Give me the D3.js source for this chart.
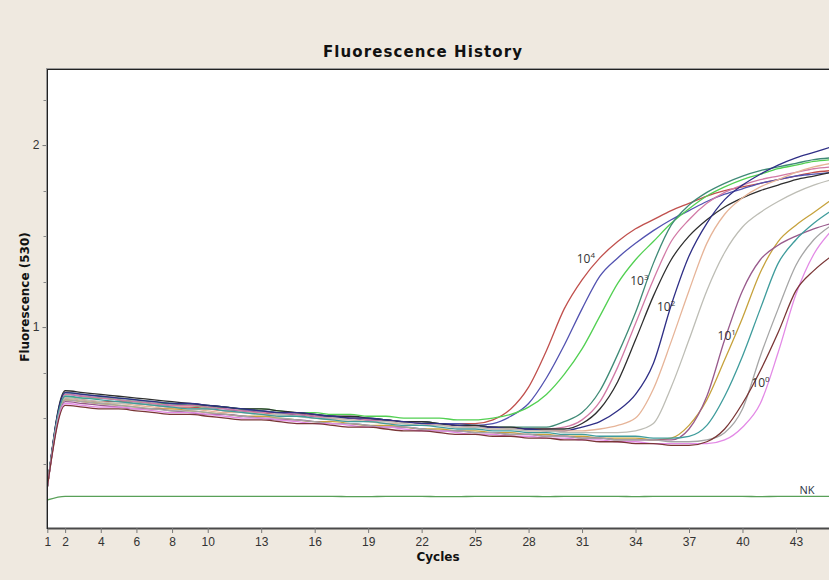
<!DOCTYPE html>
<html>
<head>
<meta charset="utf-8">
<script src="https://cdn.jsdelivr.net/npm/d3@7"></script>
<style>
  body { margin: 0; background: #efe9e0; }
  svg { display: block; }
</style>
</head>
<body>
<svg id="chart" width="829" height="580"></svg>
<script>
// cycles on the x axis
const cycles = [1,2,3,4,5,6,7,8,9,10,11,12,13,14,15,16,17,18,19,20,21,22,23,24,25,26,27,28,29,30,31,32,33,34,35,36,37,38,39,40,41,42,43,44,45];
const xTickValues = [1,2,4,6,8,10,13,16,19,22,25,28,31,34,37,40,43];
const yMajorTicks = [1,2];
const yMinorTicks = [0.25,0.5,0.75,1.25,1.5,1.75,2.25];

// 10^4
const red10e4 = [0.12,0.61,0.60,0.59,0.59,0.58,0.57,0.56,0.56,0.55,
  0.54,0.54,0.53,0.52,0.52,0.51,0.50,0.50,0.49,0.49,
  0.48,0.48,0.47,0.47,0.47,0.49,0.55,0.67,0.87,1.10,
  1.26,1.38,1.47,1.54,1.59,1.64,1.68,1.72,1.75,1.77,
  1.79,1.81,1.83,1.85,1.86];
const blue10e4 = [0.12,0.63,0.62,0.61,0.60,0.59,0.58,0.57,0.57,0.56,
  0.55,0.54,0.54,0.53,0.52,0.51,0.51,0.50,0.49,0.49,
  0.48,0.48,0.47,0.47,0.46,0.47,0.51,0.58,0.72,0.90,
  1.10,1.28,1.38,1.46,1.53,1.59,1.64,1.69,1.73,1.76,
  1.79,1.81,1.83,1.84,1.85];
const green10e4 = [0.12,0.62,0.61,0.61,0.60,0.59,0.58,0.58,0.57,0.56,
  0.56,0.55,0.55,0.54,0.53,0.53,0.52,0.52,0.51,0.51,
  0.50,0.50,0.50,0.49,0.49,0.50,0.52,0.56,0.63,0.74,
  0.88,1.06,1.24,1.37,1.47,1.57,1.65,1.72,1.77,1.81,
  1.84,1.87,1.89,1.91,1.92];
// 10^3
const teal10e3 = [0.12,0.64,0.63,0.62,0.61,0.60,0.59,0.58,0.57,0.57,
  0.56,0.55,0.54,0.53,0.53,0.52,0.51,0.50,0.50,0.49,
  0.48,0.48,0.47,0.46,0.46,0.45,0.45,0.45,0.45,0.48,
  0.53,0.65,0.85,1.08,1.35,1.56,1.67,1.74,1.79,1.83,
  1.86,1.88,1.90,1.92,1.93];
const pink10e3 = [0.12,0.63,0.62,0.61,0.60,0.59,0.58,0.57,0.57,0.56,
  0.55,0.54,0.53,0.53,0.52,0.51,0.50,0.50,0.49,0.48,
  0.48,0.47,0.46,0.46,0.45,0.45,0.44,0.44,0.44,0.45,
  0.49,0.59,0.78,1.02,1.26,1.47,1.59,1.68,1.74,1.78,
  1.81,1.83,1.85,1.87,1.88];
const black10e3 = [0.12,0.65,0.64,0.63,0.62,0.61,0.60,0.59,0.58,0.57,
  0.56,0.55,0.55,0.54,0.53,0.52,0.51,0.51,0.50,0.49,
  0.48,0.48,0.47,0.46,0.46,0.45,0.45,0.44,0.44,0.44,
  0.47,0.55,0.70,0.93,1.17,1.37,1.50,1.59,1.66,1.71,
  1.75,1.78,1.81,1.83,1.85];
// 10^2
const navy10e2 = [0.12,0.64,0.63,0.62,0.61,0.60,0.59,0.58,0.58,0.57,
  0.56,0.55,0.54,0.53,0.53,0.52,0.51,0.50,0.50,0.49,
  0.48,0.47,0.47,0.46,0.45,0.45,0.44,0.44,0.43,0.43,
  0.45,0.48,0.54,0.63,0.80,1.12,1.39,1.57,1.70,1.78,
  1.84,1.89,1.93,1.96,1.99];
const peach10e2 = [0.12,0.60,0.59,0.58,0.58,0.57,0.56,0.55,0.55,0.54,
  0.53,0.53,0.52,0.51,0.51,0.50,0.49,0.49,0.48,0.47,
  0.47,0.46,0.46,0.45,0.45,0.44,0.44,0.43,0.43,0.43,
  0.43,0.44,0.46,0.50,0.66,0.92,1.20,1.46,1.62,1.71,
  1.77,1.81,1.85,1.88,1.90];
const gray10e2 = [0.12,0.61,0.60,0.59,0.58,0.58,0.57,0.56,0.55,0.55,
  0.54,0.53,0.52,0.52,0.51,0.50,0.50,0.49,0.48,0.48,
  0.47,0.46,0.46,0.45,0.45,0.44,0.44,0.43,0.43,0.42,
  0.42,0.42,0.42,0.43,0.47,0.67,0.93,1.20,1.41,1.55,
  1.63,1.69,1.74,1.78,1.81];
// 10^1
const olive10e1 = [0.12,0.60,0.59,0.58,0.57,0.56,0.55,0.55,0.54,0.53,
  0.52,0.51,0.51,0.50,0.49,0.48,0.48,0.47,0.46,0.46,
  0.45,0.44,0.44,0.43,0.43,0.42,0.42,0.41,0.41,0.40,
  0.40,0.39,0.39,0.39,0.38,0.39,0.46,0.60,0.82,1.05,
  1.30,1.47,1.56,1.63,1.70];
const mauve10e1 = [0.12,0.59,0.58,0.57,0.56,0.55,0.55,0.54,0.53,0.52,
  0.52,0.51,0.50,0.49,0.49,0.48,0.47,0.47,0.46,0.45,
  0.45,0.44,0.43,0.43,0.42,0.42,0.41,0.41,0.40,0.40,
  0.39,0.39,0.38,0.38,0.38,0.38,0.44,0.62,0.93,1.20,
  1.37,1.45,1.50,1.54,1.57];
const teal10e1 = [0.12,0.62,0.61,0.60,0.59,0.58,0.57,0.56,0.55,0.55,
  0.54,0.53,0.52,0.51,0.51,0.50,0.49,0.48,0.48,0.47,
  0.46,0.46,0.45,0.44,0.44,0.43,0.43,0.42,0.42,0.41,
  0.41,0.40,0.40,0.40,0.39,0.39,0.40,0.46,0.62,0.84,
  1.10,1.35,1.48,1.57,1.64];
// 10^0
const maroon10e0 = [0.12,0.57,0.56,0.55,0.55,0.54,0.53,0.52,0.52,0.51,
  0.50,0.49,0.49,0.48,0.47,0.47,0.46,0.45,0.45,0.44,
  0.43,0.43,0.42,0.41,0.41,0.40,0.40,0.39,0.39,0.38,
  0.38,0.37,0.37,0.36,0.36,0.35,0.35,0.37,0.44,0.58,
  0.76,0.97,1.20,1.31,1.39];
const gray10e0 = [0.12,0.60,0.59,0.58,0.57,0.56,0.55,0.54,0.54,0.53,
  0.52,0.51,0.50,0.50,0.49,0.48,0.47,0.47,0.46,0.45,
  0.45,0.44,0.43,0.43,0.42,0.42,0.41,0.41,0.40,0.40,
  0.39,0.39,0.38,0.38,0.38,0.37,0.37,0.38,0.42,0.55,
  0.84,1.10,1.34,1.48,1.56];
const violet10e0 = [0.12,0.58,0.57,0.56,0.56,0.55,0.54,0.53,0.53,0.52,
  0.51,0.50,0.50,0.49,0.48,0.47,0.47,0.46,0.45,0.45,
  0.44,0.43,0.43,0.42,0.41,0.41,0.40,0.40,0.39,0.39,
  0.38,0.38,0.37,0.37,0.36,0.36,0.36,0.36,0.38,0.45,
  0.58,0.86,1.18,1.40,1.53];
// negative control
const nkValues = [0.05,0.07,0.07,0.07,0.07,0.07,0.07,0.07,0.07,0.07,
  0.07,0.07,0.07,0.07,0.07,0.07,0.07,0.068,0.068,0.07,
  0.07,0.07,0.068,0.068,0.07,0.07,0.07,0.07,0.068,0.07,
  0.07,0.07,0.07,0.068,0.07,0.07,0.07,0.07,0.07,0.07,
  0.068,0.07,0.07,0.07,0.07];

// dilution labels: text, exponent, anchor cycle, anchor value
const dilutionLabels = [
  {base: "10", exp: "4", c: 30.7, v: 1.35},
  {base: "10", exp: "3", c: 33.7, v: 1.23},
  {base: "10", exp: "2", c: 35.2, v: 1.09},
  {base: "10", exp: "1", c: 38.6, v: 0.93},
  {base: "10", exp: "0", c: 40.5, v: 0.67}
];
const nkLabel = {text: "NK", c: 43.2, v: 0.085};

const series = [
  {name: "10^4 a", color: "#c0504d", values: red10e4},
  {name: "10^4 b", color: "#5252b0", values: blue10e4},
  {name: "10^4 c", color: "#52d052", values: green10e4},
  {name: "10^3 a", color: "#3f8a76", values: teal10e3},
  {name: "10^3 b", color: "#d27aa6", values: pink10e3},
  {name: "10^3 c", color: "#2e2e2e", values: black10e3},
  {name: "10^2 a", color: "#2f2f86", values: navy10e2},
  {name: "10^2 b", color: "#e6b498", values: peach10e2},
  {name: "10^2 c", color: "#bdbdb5", values: gray10e2},
  {name: "10^1 a", color: "#c6a23c", values: olive10e1},
  {name: "10^1 b", color: "#985a8c", values: mauve10e1},
  {name: "10^1 c", color: "#3f9c9c", values: teal10e1},
  {name: "10^0 a", color: "#a6a6a6", values: gray10e0},
  {name: "10^0 b", color: "#e38ae6", values: violet10e0},
  {name: "10^0 c", color: "#7a3636", values: maroon10e0},
  {name: "NK", color: "#58a058", values: nkValues}
];

var svg = d3.select("#chart");

var x = d3.scaleLinear().domain([1, 45]).range([47.3, 831.6]);
var y = d3.scaleLinear().domain([-0.104, 2.418]).range([528, 69]);

// plot area
svg.append("rect")
  .attr("x", 47).attr("y", 69)
  .attr("width", 800).attr("height", 459)
  .attr("fill", "#ffffff");

svg.append("defs").append("clipPath").attr("id", "plotClip")
  .append("rect").attr("x", 48).attr("y", 70).attr("width", 800).attr("height", 457);

// title
svg.append("text")
  .attr("x", 423).attr("y", 57)
  .attr("text-anchor", "middle")
  .attr("font-family", "DejaVu Sans")
  .attr("font-weight", "bold")
  .attr("font-size", 15)
  .attr("letter-spacing", 1.1)
  .attr("fill", "#111")
  .text("Fluorescence History");

// curves
var line = d3.line()
  .curve(d3.curveMonotoneX)
  .x(function(d) { return x(d.c); })
  .y(function(d) { return y(d.v); });

var gLines = svg.append("g").attr("clip-path", "url(#plotClip)");
series.forEach(function(s) {
  var pts = cycles.map(function(c, i) { return {c: c, v: s.values[i]}; });
  gLines.append("path")
    .datum(pts)
    .attr("fill", "none")
    .attr("stroke", s.color)
    .attr("stroke-width", 1.3)
    .attr("stroke-linejoin", "round")
    .attr("d", line);
});

// x axis
var xAxis = svg.append("g")
  .attr("transform", "translate(0,528)")
  .call(d3.axisBottom(x).tickValues(xTickValues).tickSize(5).tickSizeOuter(0).tickFormat(d3.format("d")));
xAxis.select(".domain").attr("stroke", "#4a4a4a").attr("stroke-width", 2);
xAxis.selectAll(".tick line").attr("stroke", "#777");
xAxis.selectAll(".tick text")
  .attr("font-family", "Liberation Sans").attr("font-size", 12).attr("fill", "#333").attr("dy", "0.8em");

// y axis
var yAxis = svg.append("g")
  .attr("transform", "translate(47.5,0)")
  .call(d3.axisLeft(y).tickValues(yMajorTicks).tickSize(5).tickSizeOuter(0).tickFormat(d3.format("d")));
yAxis.select(".domain").remove();
yAxis.selectAll(".tick line").attr("stroke", "#777");
yAxis.selectAll(".tick text")
  .attr("font-family", "Liberation Sans").attr("font-size", 12).attr("fill", "#333");

svg.append("g").selectAll("line.minor")
  .data(yMinorTicks)
  .enter().append("line")
  .attr("x1", 43.5).attr("x2", 47.5)
  .attr("y1", function(d) { return Math.round(y(d)) + 0.5; })
  .attr("y2", function(d) { return Math.round(y(d)) + 0.5; })
  .attr("stroke", "#888");

// frame: left and top edges
svg.append("line").attr("x1", 46.5).attr("x2", 46.5).attr("y1", 68).attr("y2", 529).attr("stroke", "#9a9a9a");
svg.append("line").attr("x1", 47.5).attr("x2", 47.5).attr("y1", 69).attr("y2", 529).attr("stroke", "#222");
svg.append("line").attr("x1", 46).attr("x2", 829).attr("y1", 68.5).attr("y2", 68.5).attr("stroke", "#9a9a9a");
svg.append("line").attr("x1", 47).attr("x2", 829).attr("y1", 69.5).attr("y2", 69.5).attr("stroke", "#222");

// axis titles
svg.append("text")
  .attr("x", 438).attr("y", 561)
  .attr("text-anchor", "middle")
  .attr("font-family", "DejaVu Sans")
  .attr("font-weight", "bold")
  .attr("font-size", 12)
  .attr("fill", "#111")
  .text("Cycles");

svg.append("text")
  .attr("transform", "translate(29,297) rotate(-90)")
  .attr("text-anchor", "middle")
  .attr("font-family", "DejaVu Sans")
  .attr("font-weight", "bold")
  .attr("font-size", 12)
  .attr("fill", "#111")
  .text("Fluorescence (530)");

// dilution labels
var gLab = svg.append("g");
dilutionLabels.forEach(function(l) {
  var t = gLab.append("text")
    .attr("x", x(l.c)).attr("y", y(l.v))
    .attr("font-family", "Open Sans")
    .attr("font-size", 12)
    .attr("fill", "#333");
  t.append("tspan").text(l.base);
  t.append("tspan").attr("dy", -5).attr("font-size", 8).text(l.exp);
});

svg.append("text")
  .attr("x", x(nkLabel.c)).attr("y", y(nkLabel.v))
  .attr("font-family", "Open Sans")
  .attr("font-size", 11)
  .attr("fill", "#2c3545")
  .text(nkLabel.text);
</script>
</body>
</html>
